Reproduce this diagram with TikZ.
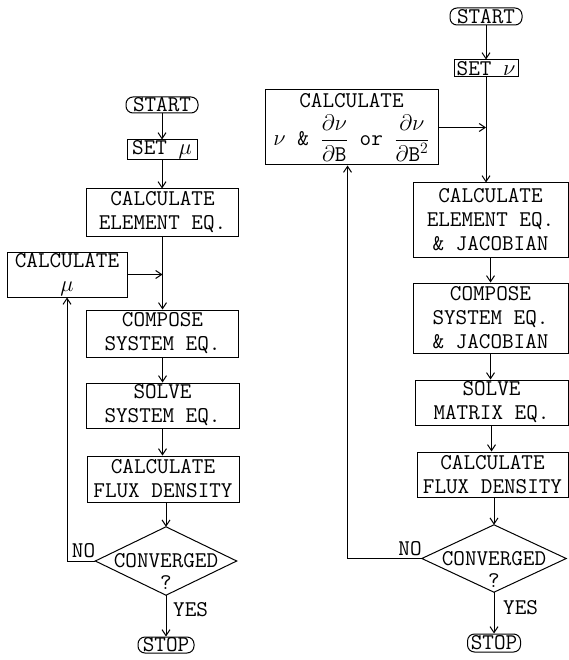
\RequirePackage{fix-cm}
\documentclass[tikz,border=0pt]{standalone}
\usepackage{amsmath}
\usepackage{fontspec}
\usetikzlibrary{arrows.meta}
\begin{document}
\begin{tikzpicture}[x=1pt,y=-1pt,
  every node/.style={font=\ttfamily\fontsize{22.5}{24}\selectfont, inner sep=0pt, align=center},
  box/.style={draw, line width=1pt},
  term/.style={draw, line width=1pt, rounded corners=7pt},
  ghost/.style={inner sep=0pt},
  arr/.style={line width=1pt, -{Straight Barb[length=6pt,width=8pt]}},
  ln/.style={line width=1pt}
]
\useasboundingbox (0,0) rectangle (569,660);

% ---------------- left flowchart ----------------
\node[term, minimum width=72, minimum height=16] (startL) at (162,105) {START};
\node[box, minimum width=70, minimum height=20] (setL) at (162,150) {SET $\mu$};
\node[box, minimum width=152, minimum height=47] (elemL) at (162.5,212.5) {CALCULATE\\ELEMENT EQ.};
\node[box, minimum width=120, minimum height=45] (muL) at (67,274.5) {CALCULATE\\$\mu$};
\node[box, minimum width=152, minimum height=47] (compL) at (162.5,333.5) {COMPOSE\\SYSTEM EQ.};
\node[box, minimum width=153, minimum height=45] (solveL) at (162.5,405.5) {SOLVE\\SYSTEM EQ.};
\node[box, minimum width=152, minimum height=46] (fluxL) at (163,479) {CALCULATE\\FLUX DENSITY};
\node[ghost, minimum width=141, minimum height=68] (dL) at (166,561) {};
\draw[ln] (dL.north) -- (dL.east) -- (dL.south) -- (dL.west) -- cycle;
\node (dLt) at (166,561) {CONVERGED};
\node (dLq) at (166,583) {?};
\node[term, minimum width=56, minimum height=16] (stopL) at (166,645) {STOP};

\draw[arr] (startL.south) -- (startL.south |- setL.north);
\draw[arr] (setL.south) -- (setL.south |- elemL.north);
\draw[arr] (elemL.south) -- (elemL.south |- compL.north);
\draw[arr] (muL.east) -- (muL.east -| elemL.south);
\draw[arr] (compL.south) -- (compL.south |- solveL.north);
\draw[arr] (solveL.south) -- (solveL.south |- fluxL.north);
\draw[arr] (fluxL.south -| dL.north) -- (dL.north);
\draw[arr] (dL.south) -- (dL.south |- stopL.north);
\draw[arr] (dL.west) -- (dL.west -| muL.south) -- (muL.south);
\node[anchor=south east] (noL) at ([yshift=3pt]dL.west) {NO};
\node[anchor=west] (yesL) at (173,610) {YES};

% ---------------- right flowchart ----------------
\node[term, minimum width=72, minimum height=17] (startR) at (486,16.5) {START};
\node[box, minimum width=64, minimum height=17] (setR) at (486,68.5) {SET $\nu$};
\node[box, minimum width=173, minimum height=75] (calcNu) at (351.5,127.5)
  {CALCULATE\\[6pt]$\nu$\ \&\ $\dfrac{\partial\nu}{\partial\text{B}}$ or $\dfrac{\partial\nu}{\partial\text{B}^{2}}$};
\coordinate (lpR) at ([xshift=-4pt]calcNu.south);
\node[box, minimum width=155, minimum height=74] (elemR) at (490.5,220) {CALCULATE\\ELEMENT EQ.\\\& JACOBIAN};
\node[box, minimum width=155, minimum height=70] (compR) at (490.5,318) {COMPOSE\\SYSTEM EQ.\\\& JACOBIAN};
\node[box, minimum width=153, minimum height=45] (solveR) at (491.5,402.5) {SOLVE\\MATRIX EQ.};
\node[box, minimum width=151, minimum height=45] (fluxR) at (492.5,474.5) {CALCULATE\\FLUX DENSITY};
\node[ghost, minimum width=144, minimum height=67] (dR) at (494,558.5) {};
\draw[ln] (dR.north) -- (dR.east) -- (dR.south) -- (dR.west) -- cycle;
\node (dRt) at (494,558.5) {CONVERGED};
\node (dRq) at (494,580.5) {?};
\node[term, minimum width=53, minimum height=18] (stopR) at (494,643) {STOP};

\draw[arr] (startR.south) -- (startR.south |- setR.north);
\draw[arr] (setR.south) -- (setR.south |- elemR.north);
\draw[arr] (calcNu.east) -- (calcNu.east -| setR.south);
\draw[arr] (elemR.south) -- (elemR.south |- compR.north);
\draw[arr] (compR.south) -- (compR.south |- solveR.north);
\draw[arr] (solveR.south) -- (solveR.south |- fluxR.north);
\draw[arr] (fluxR.south -| dR.north) -- (dR.north);
\draw[arr] (dR.south) -- (dR.south |- stopR.north);
\draw[arr] (dR.west) -- (dR.west -| lpR) -- (lpR);
\node[anchor=south east] (noR) at ([yshift=3pt]dR.west) {NO};
\node[anchor=west] (yesR) at (503,608) {YES};
\end{tikzpicture}
\end{document}
